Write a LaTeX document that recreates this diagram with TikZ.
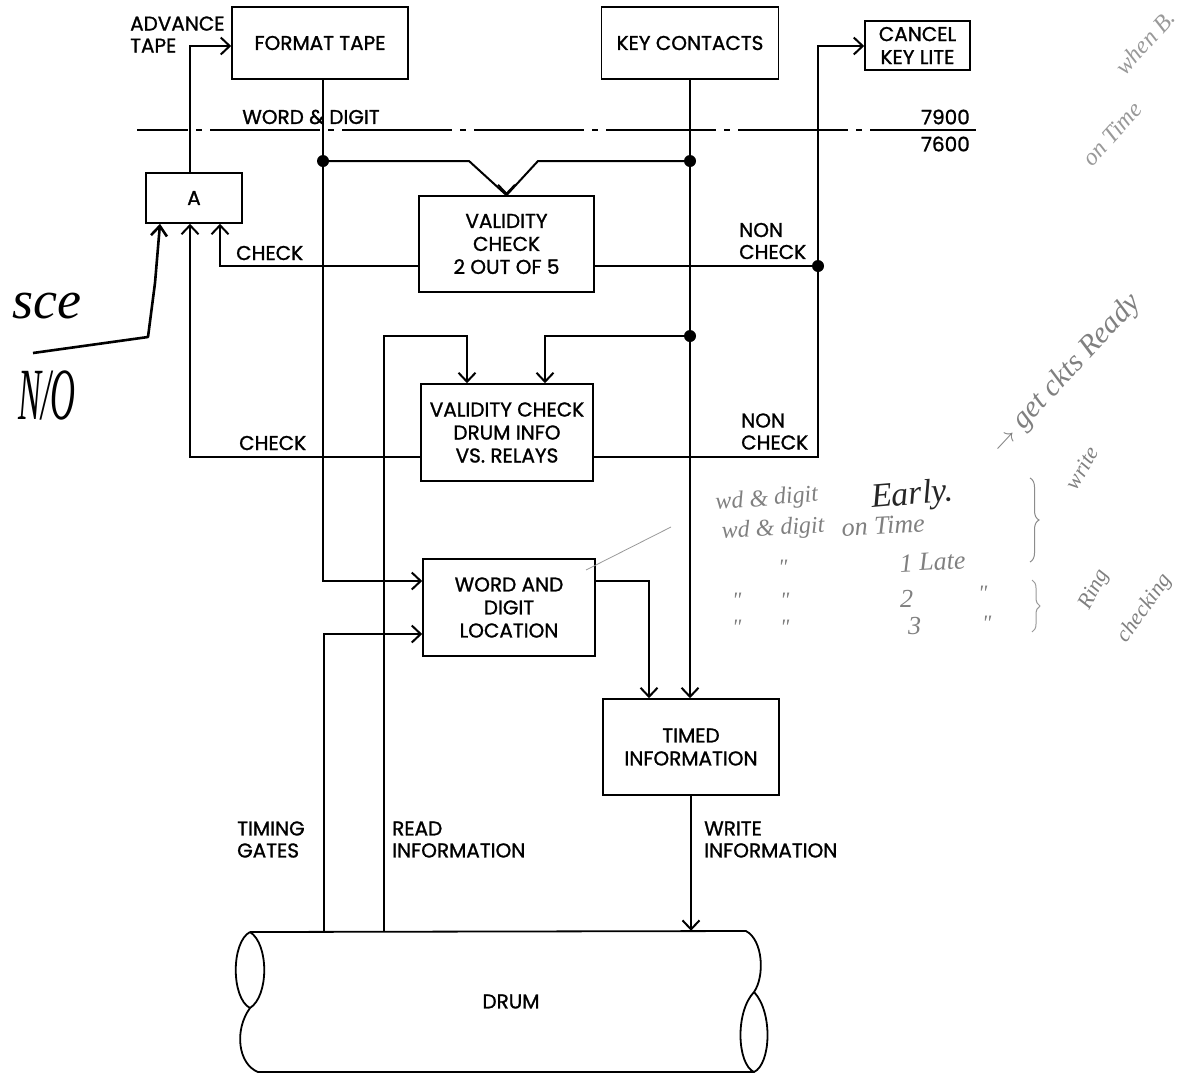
\documentclass[tikz,border=0pt]{standalone}
\usepackage{fontspec}
\setmainfont{Poppins}[FakeBold=1.2]
\newfontfamily\hand{Liberation Serif}
\usetikzlibrary{arrows.meta,decorations.pathreplacing}
\begin{document}
\begin{tikzpicture}[x=1pt,y=-1pt,
  lab/.style={font=\fontsize{20}{22}\selectfont, inner sep=0pt, align=left},
  box/.style={draw, line width=1.6pt, inner sep=0pt, align=center, font=\fontsize{20}{23}\selectfont},
  wire/.style={line width=2pt},
  arr/.style={line width=2pt, -{Straight Barb[length=9pt,width=17pt]}},
  jdot/.style={circle, fill=black, inner sep=0pt, minimum size=12pt},
  hw/.style={inner sep=0pt, text=black!50},
]
\useasboundingbox (0,0) rectangle (1201,1077);
\fill[white] (0,0) rectangle (1201,1077);

% boxes
\node[box, minimum width=176pt, minimum height=72pt] (fmt) at (320,43) {FORMAT TAPE};
\node[box, minimum width=177pt, minimum height=72pt] (key) at (690,43) {KEY CONTACTS};
\node[box, minimum width=105pt, minimum height=49pt] (cancel) at (917.5,45.5) {CANCEL\\KEY LITE};
\node[box, minimum width=96pt, minimum height=50pt] (A) at (194,198) {A};
\node[box, minimum width=175pt, minimum height=96pt] (vc1) at (506.5,244) {VALIDITY\\CHECK\\2 OUT OF 5};
\node[box, minimum width=172pt, minimum height=97pt] (vc2) at (507,432.5) {VALIDITY CHECK\\DRUM INFO\\VS. RELAYS};
\node[box, minimum width=172pt, minimum height=97pt] (wdl) at (509,607.5) {WORD AND\\DIGIT\\LOCATION};
\node[box, minimum width=176pt, minimum height=96pt] (timed) at (691,747) {TIMED\\INFORMATION};
\node[inner sep=0pt, minimum width=504pt, minimum height=141pt, font=\fontsize{20}{22}\selectfont] (drum) at (511,1001.5) {DRUM};

% drum outline
\draw[line width=1.8pt, line join=round]
  (250,932) -- (746,931)
  .. controls (763,940) and (765,976) .. (754,992)
  .. controls (735,1012) and (737,1064) .. (754,1072)
  -- (258,1072)
  .. controls (238,1064) and (234,1030) .. (250,1008)
  .. controls (231,998) and (231,942) .. (250,932);
\draw[line width=1.8pt] (250,932) .. controls (269,944) and (269,996) .. (250,1008);
\draw[line width=1.8pt] (754,992) .. controls (773,1012) and (771,1064) .. (754,1072);

% dash-dot separator
\draw[line width=1.3pt, dash pattern=on 110pt off 8pt on 6pt off 8pt, dash phase=59pt] (137,130) -- (976,130);

% labels
\node[lab, anchor=west] (advlbl) at (130,34.5) {ADVANCE\\TAPE};
\node[lab] (wdlbl) at (311,117) {WORD \& DIGIT};
\node[lab, anchor=east] (n7900) at (970,117) {7900};
\node[lab, anchor=east] (n7600) at (970,144) {7600};
\node[lab, anchor=west] (chk1) at (236,253) {CHECK};
\node[lab, anchor=west] (nchk1) at (739,241) {NON\\CHECK};
\node[lab, anchor=west] (chk2) at (239,443) {CHECK};
\node[lab, anchor=west] (nchk2) at (741,431.5) {NON\\CHECK};
\node[lab, anchor=west] (timlbl) at (237,839.5) {TIMING\\GATES};
\node[lab, anchor=west] (readlbl) at (392,839.5) {READ\\INFORMATION};
\node[lab, anchor=west] (writelbl) at (704,839.5) {WRITE\\INFORMATION};

% junction dots
\node[jdot] (d1) at (323,161) {};
\node[jdot] (d2) at (690,161) {};
\node[jdot] (d3) at (818,266) {};
\node[jdot] (d4) at (690,336) {};

% connectors
\draw[arr] (A.north -| 190,0) |- (fmt.west |- 0,46);
\draw[arr] (fmt.south -| d1) -- (d1.center) -- (323,581) -- (wdl.west |- 0,581);
\draw[wire] (d1.center) -- (469,161) -- (vc1.north) -- (538,161) -- (d2.center);
\draw[arr] ([yshift=3pt]vc1.north) -- (vc1.north);
\draw[arr] (key.south) -- (key.south |- timed.north);
\draw[arr] (d4.center) -| ([xshift=38pt]vc2.north);
\draw[arr] (drum.north -| 384,0) -- (384,336) -| ([xshift=-40pt]vc2.north);
\draw[arr] (vc1.west |- 0,266) -| (A.south -| 220,0);
\draw[wire] (vc1.east |- 0,266) -- (d3.center);
\draw[arr] (vc2.west |- 0,457) -| (A.south -| 190,0);
\draw[arr] (vc2.east |- 0,457) -| (818,46) -- (cancel.west |- 0,46);
\draw[arr] (drum.north -| 324,0) -- (324,634) -- (wdl.west |- 0,634);
\draw[arr] (wdl.east |- 0,581) -| ([xshift=-42pt]timed.north);
\draw[arr] (timed.south) -- (timed.south |- drum.north);

% handwritten annotations
\coordinate (hstart) at (33,353);
\draw[line width=2.6pt, line join=round, -{Straight Barb[length=10pt,width=16pt]}] (hstart) -- (148,337) -- (155,283) -- (A.south -| 160,0);
\node[inner sep=0pt, font=\hand\itshape\fontsize{54}{54}\selectfont] (sce) at (47,306) {sce};
\node[inner sep=0pt, font=\hand\itshape\fontsize{46}{46}\selectfont] (no) at (47,395) {\scalebox{0.75}[1.6]{N/O}};

\draw[black!40, line width=0.8pt] (586,570) -- (671,527);
\node[hw, anchor=base west, rotate=5, font=\hand\itshape\fontsize{24}{24}\selectfont] (h1) at (716,510) {wd \& digit};
\node[hw, anchor=base west, rotate=5, text=black!85, font=\hand\itshape\fontsize{34}{34}\selectfont] (h2) at (872,508) {Early.};
\node[hw, anchor=base west, rotate=3, font=\hand\itshape\fontsize{24}{24}\selectfont] (h3) at (722,538) {wd \& digit};
\node[hw, anchor=base west, rotate=3, font=\hand\itshape\fontsize{26}{26}\selectfont] (h4) at (842,536) {on Time};
\node[hw, anchor=base west, font=\hand\itshape\fontsize{22}{22}\selectfont] (h5) at (778,574) {"};
\node[hw, anchor=base west, rotate=3, font=\hand\itshape\fontsize{26}{26}\selectfont] (h6) at (900,572) {1 Late};
\node[hw, anchor=base west, font=\hand\itshape\fontsize{22}{22}\selectfont] (h7) at (732,607) {"};
\node[hw, anchor=base west, font=\hand\itshape\fontsize{22}{22}\selectfont] (h8) at (780,607) {"};
\node[hw, anchor=base west, font=\hand\itshape\fontsize{26}{26}\selectfont] (h9) at (900,607) {2};
\node[hw, anchor=base west, font=\hand\itshape\fontsize{22}{22}\selectfont] (h10) at (978,600) {"};
\node[hw, anchor=base west, font=\hand\itshape\fontsize{22}{22}\selectfont] (h11) at (732,634) {"};
\node[hw, anchor=base west, font=\hand\itshape\fontsize{22}{22}\selectfont] (h12) at (780,634) {"};
\node[hw, anchor=base west, font=\hand\itshape\fontsize{26}{26}\selectfont] (h13) at (908,634) {3};
\node[hw, anchor=base west, font=\hand\itshape\fontsize{22}{22}\selectfont] (h14) at (982,630) {"};
\draw[black!45, line width=1pt, decorate, decoration={brace, amplitude=9pt}] (1030,478) -- (1030,562);
\draw[black!40, line width=1pt, decorate, decoration={brace, amplitude=8pt}] (1032,580) -- (1032,632);
\node[hw, rotate=60, font=\hand\itshape\fontsize{22}{22}\selectfont] (h15) at (1082,468) {write};
\node[hw, rotate=62, font=\hand\itshape\fontsize{22}{22}\selectfont] (h16) at (1095,590) {Ring};
\node[hw, rotate=55, font=\hand\itshape\fontsize{22}{22}\selectfont] (h17) at (1145,608) {checking};
\node[hw, rotate=47, font=\hand\itshape\fontsize{30}{30}\selectfont] (h18) at (1066,374) {$\rightarrow$ get ckts Ready};
\node[hw, rotate=48, text=black!40, font=\hand\itshape\fontsize{24}{24}\selectfont] (h19) at (1145,42) {when B.};
\node[hw, rotate=48, text=black!40, font=\hand\itshape\fontsize{24}{24}\selectfont] (h20) at (1112,134) {on Time};
\end{tikzpicture}
\end{document}
